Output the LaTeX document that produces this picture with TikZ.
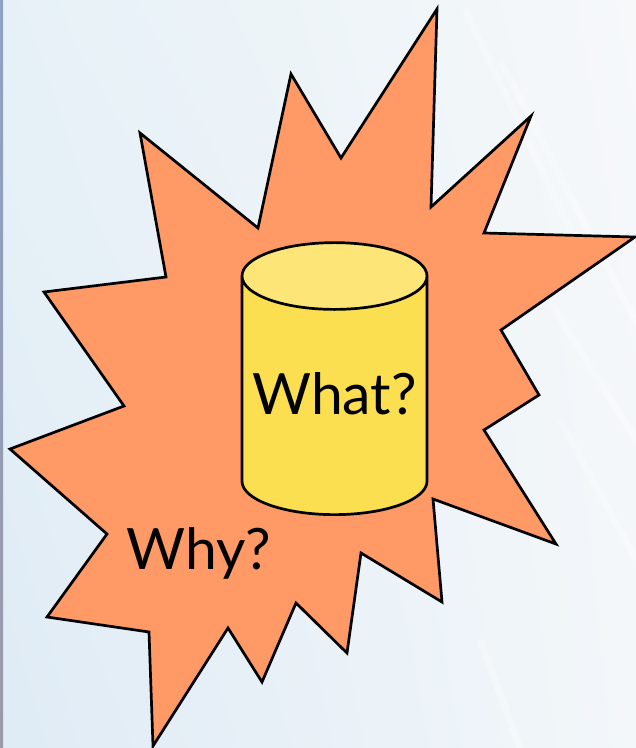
\documentclass[tikz,border=0pt]{standalone}
\usepackage{fontspec}
\setmainfont{Lato}
\usetikzlibrary{shapes.geometric, shadings}
\definecolor{burstorange}{HTML}{FF9966}
\definecolor{drumbody}{HTML}{FBDF50}
\definecolor{drumtop}{HTML}{FDE677}
\definecolor{backul}{HTML}{E6F1F7}
\definecolor{backur}{HTML}{F6F8FA}
\definecolor{backll}{HTML}{DFEBF5}
\definecolor{backlr}{HTML}{F3F7FA}
\definecolor{stripup}{HTML}{8EA2C6}
\definecolor{stripdown}{HTML}{9A9AA8}

\begin{document}
\begin{tikzpicture}[
        burst/.style={draw=black, line width=2.7pt, line join=miter, fill=burstorange},
        word/.style={font=\fontsize{57}{60}\selectfont, text=black, inner sep=0pt},
        drum/.style={word, cylinder, shape border rotate=90, aspect=0.406, minimum width=185pt, minimum height=272pt, draw=black, line width=2.7pt, cylinder uses custom fill, cylinder body fill=drumbody, cylinder end fill=drumtop},
        streak/.style={white, opacity=0.3, line width=7pt}
    ]
        \begin{scope}[x=1pt, y=-1pt]
        \useasboundingbox (0,0) rectangle (636,748);

        % Background
        \shade[upper left=backul, upper right=backur, lower left=backll, lower right=backlr] (0,0) rectangle (636,748);
        \shade[top color=stripup, bottom color=stripdown] (0,0) rectangle (3,748);
        \foreach \xa/\ya/\xb/\yb in {465/10/575/240, 500/60/640/330, 530/270/636/440, 480/640/520/748, 560/420/636/560}
            \draw[streak] (\xa,\ya) -- (\xb,\yb);

        % Burst
        \draw[burst] (437,9) -- (431,207) -- (531,116) -- (484,233) -- (635,237) -- (501,330) -- (539,395)
            -- (484,430) -- (556,544) -- (433,499) -- (442,602) -- (361,553) -- (347,653) -- (296,603)
            -- (262,682) -- (228,628) -- (153,746) -- (149,632) -- (47,617) -- (107,534) -- (10,449)
            -- (124,406) -- (44,292) -- (166,277) -- (140,133) -- (258,228) -- (291,74) -- (341,158) -- cycle;

        \coordinate (drumpos) at (334.5,396);
        \coordinate (whypos) at (199,553);
        \end{scope}

        % Nodes
        \node (drum) [drum] at (drumpos) {\raisebox{4pt}{What?}};
        \node (why) [word] at (whypos) {Why?};
    \end{tikzpicture}
\end{document}
